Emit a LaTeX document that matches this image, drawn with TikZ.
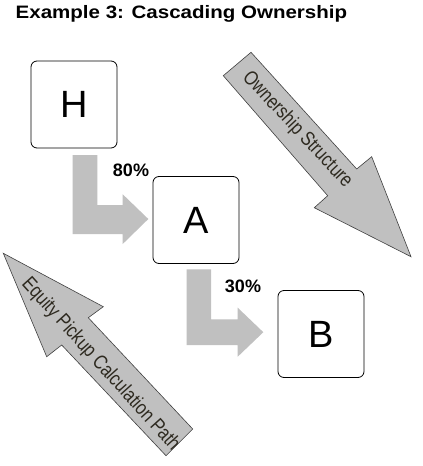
\documentclass[tikz,border=0pt]{standalone}
\usepackage{fontspec}
\setmainfont{Liberation Sans}
\newfontfamily\narrowfont[FakeStretch=0.82]{Liberation Sans}
\newfontfamily\widefont[FakeStretch=1.14]{Liberation Sans}
\definecolor{lgray}{HTML}{C0C0C0}
\definecolor{bordergray}{HTML}{404040}
\definecolor{txtbrown}{HTML}{2E2A20}
\begin{document}
\begin{tikzpicture}[x=1pt,y=-1pt,
  entity/.style={draw=black,line width=0.8pt,rounded corners=6pt,fill=white,
    minimum width=86pt,minimum height=87pt,inner sep=0pt,
    font=\fontsize{38}{40}\selectfont},
  pct/.style={font=\fontsize{18}{20}\selectfont\bfseries,inner sep=0pt},
  larrow/.style={fill=lgray,draw=none},
  bigarrow/.style={fill=lgray,draw=bordergray,line width=0.6pt,line join=miter},
  arrowtext/.style={text=txtbrown,inner sep=0pt,font=\narrowfont\fontsize{20.2}{22}\selectfont},
  titletext/.style={font=\widefont\fontsize{18}{20}\selectfont\bfseries,inner sep=0pt,anchor=base west}]
\useasboundingbox (0,0) rectangle (423,466);
\fill[white] (0,0) rectangle (423,466);

\node[titletext] (title) at (15.5,18.5) {Example 3: Cascading Ownership};

% big arrow: Ownership Structure
\draw[bigarrow] (223.3,75.7) -- (251,52.3) -- (356.7,169) -- (371.7,156.7)
  -- (411,256.7) -- (314.3,207.7) -- (327.7,195.7) -- cycle;
\node[arrowtext,rotate=-47] (own) at (297.3,129.9) {Ownership Structure};

% big arrow: Equity Pickup Calculation Path
\draw[bigarrow] (3.3,253.3) -- (103.3,306.7) -- (88.3,317.7) -- (192.7,429)
  -- (166,455.7) -- (61.7,345) -- (46.7,356.7) -- cycle;
\node[arrowtext,rotate=-48] (eq) at (100.5,364.5) {Equity Pickup Calculation Path};

% L arrows
\fill[larrow] (72.7,155) -- (97.3,155) -- (97.3,205) -- (122.7,205) -- (122.7,194.3)
  -- (148.3,219) -- (122.7,244) -- (122.7,234) -- (72.7,234) -- cycle;
\fill[larrow] (186.7,269.3) -- (211,269.3) -- (211,319.3) -- (237.7,319.3) -- (237.7,307.7)
  -- (263.3,332.2) -- (237.7,356.7) -- (237.7,345) -- (186.7,345) -- cycle;

% entities
\node[entity] (H) at (74,104.5) {H};
\node[entity] (A) at (196,220) {A};
\node[entity] (B) at (321,334) {B};

\node[pct] (p80) at (131,170.5) {80\%};
\node[pct] (p30) at (243,286) {30\%};
\end{tikzpicture}
\end{document}
